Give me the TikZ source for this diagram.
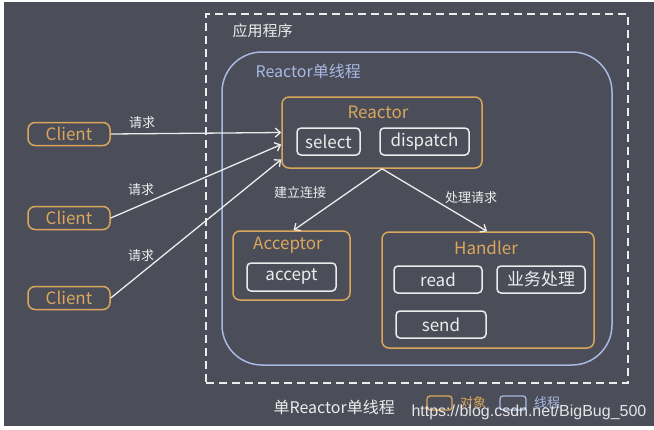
\documentclass[tikz,border=0pt]{standalone}
\usepackage{fontspec}
\setmainfont{Noto Sans CJK SC}
\newfontfamily\wmfont{Liberation Sans}
\usetikzlibrary{arrows.meta}

\definecolor{bgdark}{RGB}{75,78,89}
\definecolor{objorange}{RGB}{218,166,92}
\definecolor{thrblue}{RGB}{168,184,226}
\definecolor{lightwhite}{RGB}{236,236,236}

\tikzset{
  objbox/.style={draw=objorange, line width=1.5pt, rounded corners=7pt, inner sep=0pt},
  subbox/.style={draw=lightwhite, line width=1.5pt, rounded corners=4pt, inner sep=0pt,
    text=lightwhite, font=\fontsize{17}{19}\selectfont},
  titletext/.style={text=objorange, font=\fontsize{17}{20}\selectfont},
  reqtext/.style={text=lightwhite, font=\fontsize{13}{15}\selectfont},
  flow/.style={draw=lightwhite, line width=1.3pt, -{Straight Barb[length=5pt,width=9pt]}}
}

\begin{document}
\begin{tikzpicture}[x=1pt,y=-1pt]
    % background with thin white frame
    \fill[white] (0,0) rectangle (654,429);
    \fill[bgdark] (4,2) rectangle (654,426);
    \useasboundingbox (0,0) rectangle (654,429);

    % application frame
    \node[draw=lightwhite, line width=1.8pt, dash pattern=on 8pt off 5pt,
          minimum width=422pt, minimum height=369pt] (app) at (417,198.5) {};
    \node[text=lightwhite, font=\fontsize{15}{18}\selectfont, anchor=west] (apptitle) at (229,31) {应用程序};

    % single thread
    \node[draw=thrblue, line width=1.5pt, rounded corners=40pt,
          minimum width=390pt, minimum height=313pt] (thread) at (417,208.5) {};
    \node[text=thrblue, font=\fontsize{16}{19}\selectfont, anchor=west] (threadtitle) at (252,71) {Reactor单线程};

    % clients
    \node[objbox, titletext, minimum width=82pt, minimum height=23pt] (clientA) at (69,134) {Client};
    \node[objbox, titletext, minimum width=82pt, minimum height=23pt] (clientB) at (69,218) {Client};
    \node[objbox, titletext, minimum width=82pt, minimum height=23pt] (clientC) at (69,298) {Client};

    % reactor
    \node[objbox, minimum width=200pt, minimum height=71pt] (reactor) at (382,132.5) {};
    \node[titletext] (reactortitle) at (378,112) {Reactor};
    \node[subbox, minimum width=63pt, minimum height=27pt] (select) at (328.5,141.5) {select};
    \node[subbox, minimum width=89pt, minimum height=27pt] (dispatch) at (424.5,141.5) {dispatch};

    % acceptor
    \node[objbox, minimum width=117pt, minimum height=69pt] (acceptor) at (291.5,265.5) {};
    \node[titletext] (acceptortitle) at (288,245) {Acceptor};
    \node[subbox, minimum width=89pt, minimum height=28pt] (accept) at (291.5,277) {accept};

    % handler
    \node[objbox, minimum width=212pt, minimum height=116pt] (handler) at (488,290) {};
    \node[titletext] (handlertitle) at (486,248) {Handler};
    \node[subbox, minimum width=88pt, minimum height=27pt] (read) at (438,279.5) {read};
    \node[subbox, minimum width=88pt, minimum height=27pt] (biz) at (541,279.5) {业务处理};
    \node[subbox, minimum width=90pt, minimum height=27pt] (send) at (441,324.5) {send};

    % requests
    \draw[flow] (clientA.east) -- ([yshift=0pt]reactor.west);
    \draw[flow] (clientB.east) -- ([yshift=-12pt]reactor.west);
    \draw[flow] (clientC.east) -- ([yshift=-27pt]reactor.west);
    \node[reqtext] (reqA) at (142,123) {请求};
    \node[reqtext] (reqB) at (141,190) {请求};
    \node[reqtext] (reqC) at (141,256) {请求};

    % dispatching
    \draw[flow] (reactor.south) -- ([xshift=2pt]acceptor.north);
    \draw[flow] (reactor.south) -- ([xshift=-1pt]handler.north);
    \node[reqtext] (connlabel) at (300,193) {建立连接};
    \node[reqtext] (handlelabel) at (471,198) {处理请求};

    % caption and legend
    \node[text=lightwhite, font=\fontsize{16}{19}\selectfont, anchor=west] (caption) at (270,407) {单Reactor单线程};
    \node[draw=objorange, line width=1.3pt, rounded corners=3pt, minimum width=25pt, minimum height=14pt] (legobj) at (439.5,403) {};
    \node[text=objorange, font=\fontsize{13}{15}\selectfont, right=4pt] (legobjtext) at (legobj.east) {对象};
    \node[draw=thrblue, line width=1.3pt, rounded corners=3pt, minimum width=26pt, minimum height=14pt] (legthr) at (513,403) {};
    \node[text=thrblue, font=\fontsize{13}{15}\selectfont, right=4pt] (legthrtext) at (legthr.east) {线程};

    % watermark
    \node[text=white, opacity=0.85, font=\wmfont\fontsize{16}{18}\selectfont, anchor=west] (watermark) at (408,412) {https://blog.csdn.net/BigBug\_500};
\end{tikzpicture}
\end{document}
